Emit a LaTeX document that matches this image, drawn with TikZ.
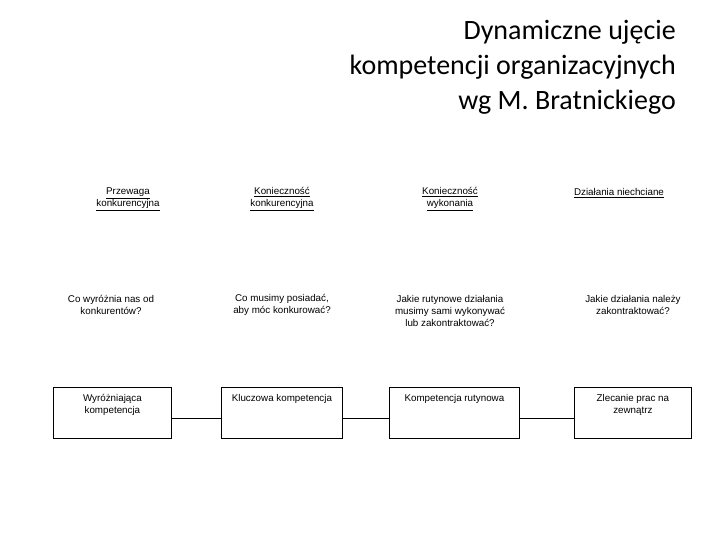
\documentclass[tikz,border=0pt]{standalone}
\usepackage{fontspec}
\setmainfont{Liberation Sans}
\newfontfamily\titlefont{Carlito}
\begin{document}
\begin{tikzpicture}[x=1pt,y=-1pt,
 small/.style={font=\fontsize{9.8}{12}\selectfont,align=center,inner sep=0pt},
 boxx/.style={draw,line width=0.8pt,minimum height=51pt,anchor=north west,inner sep=0pt}]
\useasboundingbox (0,0) rectangle (720,540);
\node[font=\titlefont\fontsize{28}{35}\selectfont,align=right,anchor=north east,inner sep=0pt] (title) at (676,20) {Dynamiczne ujęcie\\kompetencji organizacyjnych\\wg M. Bratnickiego};
\node[small] (h1) at (128,199) {\underline{Przewaga}\\\underline{konkurencyjna}};
\node[small] (h2) at (282,199) {\underline{Konieczność}\\\underline{konkurencyjna}};
\node[small] (h3) at (450,199) {\underline{Konieczność}\\\underline{wykonania}};
\node[small] (h4) at (619,193) {\underline{Działania niechciane}};
\node[small] (q1) at (111,305) {Co wyróżnia nas od\\konkurentów?};
\node[small] (q2) at (282,305) {Co musimy posiadać,\\aby móc konkurować?};
\node[small] (q3) at (450,311) {Jakie rutynowe działania\\musimy sami wykonywać\\lub zakontraktować?};
\node[small] (q4) at (633,305) {Jakie działania należy\\zakontraktować?};
\node[boxx,minimum width=118pt] (b1) at (53,387) {};
\node[boxx,minimum width=121pt] (b2) at (221,387) {};
\node[boxx,minimum width=130pt] (b3) at (389,387) {};
\node[boxx,minimum width=117pt] (b4) at (574,387) {};
\node[small,anchor=north] (t1) at (b1.north) [yshift=-7pt] {Wyróżniająca\\kompetencja};
\node[small,anchor=north] (t2) at (b2.north) [yshift=-7pt] {Kluczowa kompetencja};
\node[small,anchor=north] (t3) at (b3.north) [yshift=-7pt] {Kompetencja rutynowa};
\node[small,anchor=north] (t4) at (b4.north) [yshift=-7pt] {Zlecanie prac na\\zewnątrz};
\draw[line width=0.8pt] (b1.east |- 0,418) -- (b2.west |- 0,418);
\draw[line width=0.8pt] (b2.east |- 0,418) -- (b3.west |- 0,418);
\draw[line width=0.8pt] (b3.east |- 0,418) -- (b4.west |- 0,418);
\end{tikzpicture}
\end{document}
